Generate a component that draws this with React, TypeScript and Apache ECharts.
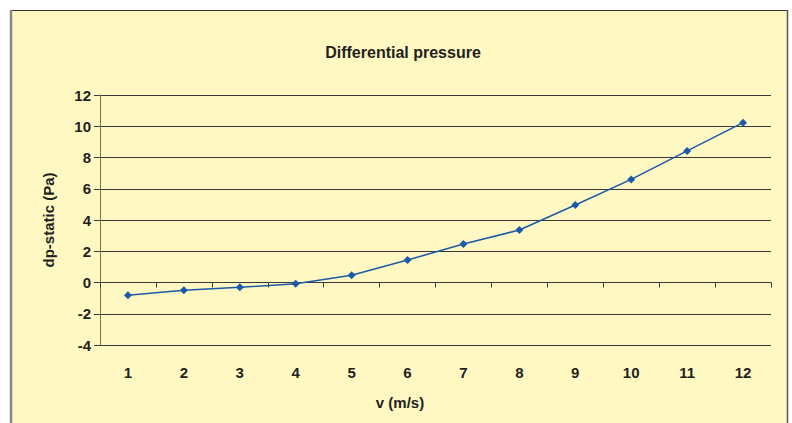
import React, { useEffect, useRef } from "react";
import * as echarts from "echarts";

const categories = ["1", "2", "3", "4", "5", "6", "7", "8", "9", "10", "11", "12"];
const dpStatic = [-0.82, -0.5, -0.31, -0.08, 0.46, 1.44, 2.46, 3.36, 4.96, 6.6, 8.42, 10.23];
const chartTitle = "Differential pressure";
const xName = "v (m/s)";
const yName = "dp-static (Pa)";

const FONT = "'Liberation Sans', Arial, sans-serif";
const TEXT = "#231f20";

export default function App() {
  const ref = useRef<HTMLDivElement>(null);
  useEffect(() => {
    document.body.style.margin = "0";
    if (!ref.current) return;
    const chart = echarts.init(ref.current, null, { renderer: "svg" });
    chart.setOption({
      animation: false,
      backgroundColor: "#ffffff",
      graphic: [
        {
          type: "rect",
          z: -10,
          shape: { x: 10, y: 10, width: 777, height: 420 },
          style: { fill: "#fff8c2", stroke: "none" },
        },
        { type: "line", z: -5, shape: { x1: 10, y1: 10.5, x2: 787, y2: 10.5 }, style: { stroke: "#333", lineWidth: 1 } },
        { type: "line", z: -5, shape: { x1: 11, y1: 10, x2: 11, y2: 423 }, style: { stroke: "#888", lineWidth: 2.5 } },
        { type: "line", z: -5, shape: { x1: 787.5, y1: 10, x2: 787.5, y2: 423 }, style: { stroke: "#555", lineWidth: 1.5 } },
        {
          type: "text",
          style: {
            text: xName,
            x: 400,
            y: 402,
            align: "center",
            verticalAlign: "middle",
            font: `bold 15px ${FONT}`,
            fill: TEXT,
          },
        },
      ],
      title: {
        text: chartTitle,
        left: 398,
        top: 39,
        textAlign: "center",
        textStyle: { fontFamily: FONT, fontWeight: "bold", fontSize: 16, color: TEXT },
      },
      grid: { left: 100, top: 95, width: 671, height: 250 },
      xAxis: [
        {
          type: "category",
          data: categories,
          boundaryGap: true,
          axisLine: { onZero: true, lineStyle: { color: "#3a3a3a", width: 1 } },
          axisTick: { show: true, length: 5, alignWithLabel: false, lineStyle: { color: "#3a3a3a" } },
          axisLabel: { show: false },
          splitLine: { show: false },
        },
        {
          type: "category",
          data: categories,
          boundaryGap: true,
          position: "bottom",
          axisLine: { show: false, onZero: false },
          axisTick: { show: false },
          axisLabel: {
            show: true,
            margin: 20,
            fontFamily: FONT,
            fontWeight: "bold",
            fontSize: 15,
            color: TEXT,
          },
          splitLine: { show: false },
        },
      ],
      yAxis: {
        type: "value",
        min: -4,
        max: 12,
        interval: 2,
        name: yName,
        nameLocation: "middle",
        nameGap: 44,
        nameRotate: 90,
        nameTextStyle: { fontFamily: FONT, fontWeight: "bold", fontSize: 15, color: TEXT },
        axisLine: { show: true, lineStyle: { color: "#7a7360", width: 1 } },
        axisTick: { show: true, length: 6, lineStyle: { color: "#3a3a3a" } },
        axisLabel: {
          margin: 9,
          fontFamily: FONT,
          fontWeight: "bold",
          fontSize: 15,
          color: TEXT,
        },
        splitLine: { show: true, lineStyle: { color: "#3a3a3a", width: 1 } },
      },
      series: [
        {
          type: "line",
          xAxisIndex: 0,
          data: dpStatic,
          symbol: "diamond",
          symbolSize: 8,
          showSymbol: true,
          lineStyle: { color: "#1b5aa8", width: 1.5 },
          itemStyle: { color: "#1b5aa8" },
        },
      ],
    });
    return () => chart.dispose();
  }, []);
  return <div ref={ref} style={{ width: 792, height: 423 }} />;
}
